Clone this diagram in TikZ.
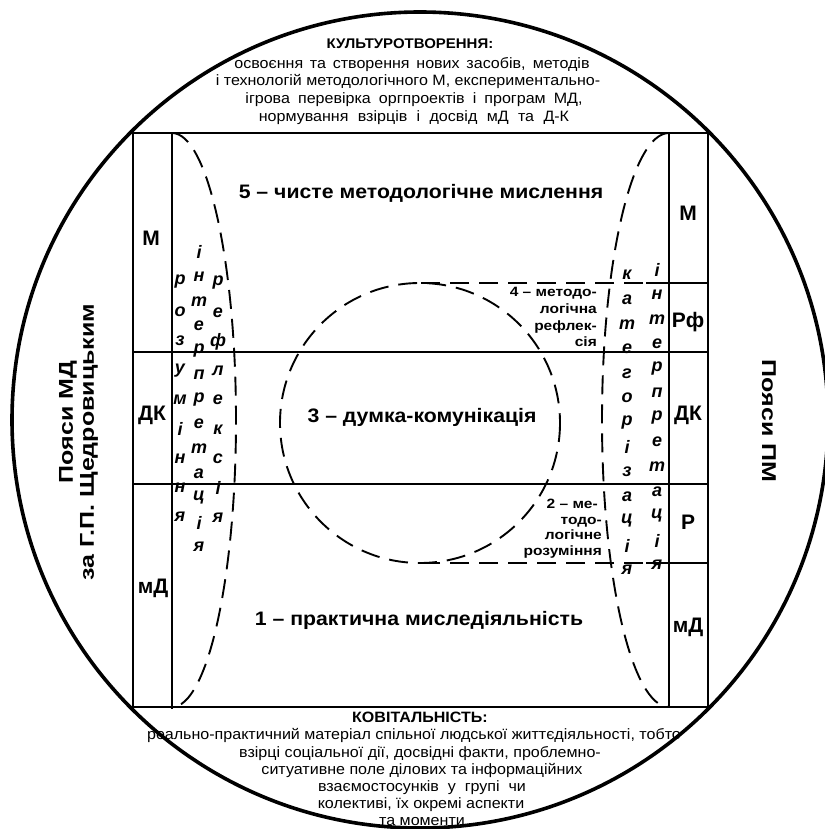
\documentclass[tikz,border=0pt]{standalone}
\usepackage{graphicx}
\usepackage{fontspec}
\setmainfont{Liberation Sans}
\newcommand\hs[1]{\scalebox{1.07}[1]{#1}}
\newcommand\hz[1]{\scalebox{1.09}[1]{#1}}
\newcommand\hsm[1]{\scalebox{1.15}[1]{#1}}
\newcommand\hsw[1]{\scalebox{1.25}[1]{#1}}
\begin{document}
\begin{tikzpicture}[x=1pt,y=-1pt,
  frame/.style={line width=2.2pt},
  dashline/.style={line width=1.9pt, dash pattern=on 19pt off 10pt},
  body/.style={inner sep=0pt, anchor=base, font=\fontsize{15}{17}\selectfont},
  bodyt/.style={inner sep=0pt, anchor=base, font=\bfseries\fontsize{15}{17}\selectfont},
  zone/.style={inner sep=0pt, font=\bfseries\fontsize{19.5}{22}\selectfont},
  col/.style={inner sep=0pt, font=\bfseries\fontsize{21}{24}\selectfont},
  vl/.style={inner sep=0pt, font=\bfseries\itshape\fontsize{18}{20}\selectfont},
  small/.style={inner sep=0pt, anchor=base east, font=\bfseries\fontsize{13.5}{15}\selectfont},
  side/.style={inner sep=0pt, font=\bfseries\fontsize{20}{22}\selectfont}]
\useasboundingbox (0,0) rectangle (824,829);

% outer circle
\draw[line width=3.6pt] (420,420) circle[radius=408];

% frame
\draw[frame] (133,133) rectangle (708,707);
\draw[frame] (172,133) -- (172,709);
\draw[frame] (669,133) -- (669,707);
\draw[frame] (133,352) -- (708,352);
\draw[frame] (133,484) -- (708,484);
\draw[frame] (646,283) -- (708,283);
\draw[frame] (646,563) -- (708,563);

% dashed shapes
\draw[dashline] (172,133) arc[start angle=-90, end angle=90, x radius=64, y radius=287];
\draw[dashline] (669,133) arc[start angle=-90, end angle=-270, x radius=67, y radius=287];
\draw[dashline] (420,423) circle[radius=140];
\coordinate (c4r) at (643,283);
\coordinate (c4l) at (420,283);
\coordinate (c2r) at (643,563);
\coordinate (c2l) at (420,563);
\draw[dashline] (c4r) -- (c4l);
\draw[dashline] (c2r) -- (c2l);

% top text
\node[bodyt, font=\bfseries\fontsize{14}{16}\selectfont] (kt) at (410,49) {\hs{КУЛЬТУРОТВОРЕННЯ:}};
\node[body] (k1) at (412,68.5) {\hs{\makebox[332pt][s]{освоєння та створення нових засобів, методів}}};
\node[body] (k2) at (408,86) {\hs{і технологій методологічного М, експериментально-}};
\node[body] (k3) at (414,104) {\hs{\makebox[315pt][s]{ігрова перевірка оргпроектів і програм МД,}}};
\node[body] (k4) at (414,122) {\hs{\makebox[290pt][s]{нормування взірців і досвід мД та Д-К}}};

% bottom text
\node[bodyt] (bt) at (420,722) {\hs{КОВІТАЛЬНІСТЬ:}};
\node[body] (b1) at (414,739) {\hs{реально-практичний матеріал спільної людської життєдіяльності, тобто}};
\node[body] (b2) at (420,757) {\hs{взірці соціальної дії, досвідні факти, проблемно-}};
\node[body] (b3) at (422,774) {\hs{ситуативне поле ділових та інформаційних}};
\node[body] (b4) at (422,791) {\hs{взаємостосунків\ \ у\ \ групі\ \ чи}};
\node[body] (b5) at (421,808) {\hs{колективі, їх окремі аспекти}};
\node[body] (b6) at (422,825) {\hs{та моменти}};

% zone titles
\node[zone] (z5) at (421,193) {\hz{5 – чисте методологічне мислення}};
\node[zone] (z3) at (422,417) {\hz{3 – думка-комунікація}};
\node[zone] (z1) at (419,620) {\hz{1 – практична миследіяльність}};

% 4 and 2
\node[small] (f1) at (597,296) {\hsm{4 – методо-}};
\node[small] (f2) at (597,313) {\hsm{логічна}};
\node[small] (f3) at (597,330.5) {\hsm{рефлек-}};
\node[small] (f4) at (597,346) {\hsm{сія}};
\node[small] (t1) at (598,508) {\hsm{2 – ме-}};
\node[small] (t2) at (602,524) {\hsm{тодо-}};
\node[small] (t3) at (602,539) {\hsm{логічне}};
\node[small] (t4) at (602,555) {\hsm{розуміння}};

% column labels
\node[col] (lm) at (151,238) {М};
\node[col] (ldk) at (152,415) {ДК};
\node[col] (lmd) at (153,588) {мД};
\node[col] (rm) at (688,213) {М};
\node[col] (rrf) at (688,322) {Рф};
\node[col] (rdk) at (688,415) {ДК};
\node[col] (rr) at (688,522) {Р};
\node[col] (rmd) at (688,627) {мД};

% vertical words
\foreach \l [count=\i from 0] in {р,о,з,у,м,і,н,н,я}
  \node[vl] (rz\i) at (180,282+29.4*\i) {\l};
\foreach \l [count=\i from 0] in {і,н,т,е,р,п,р,е,т,а,ц,і,я}
  \node[vl] (li\i) at (199,252+24.6*\i) {\l};
\foreach \l [count=\i from 0] in {р,е,ф,л,е,к,с,і,я}
  \node[vl] (rf\i) at (218,283+29.3*\i) {\l};
\foreach \l [count=\i from 0] in {к,а,т,е,г,о,р,і,з,а,ц,і,я}
  \node[vl] (kt\i) at (627,275+24.6*\i) {\l};
\foreach \l [count=\i from 0] in {і,н,т,е,р,п,р,е,т,а,ц,і,я}
  \node[vl] (ri\i) at (657,270+24.6*\i) {\l};

% side labels
\node[side, rotate=90] (s1) at (68,422) {\hsw{Пояси МД}};
\node[side, rotate=90] (s2) at (89,442) {\hsw{за Г.П. Щедровицьким}};
\node[side, rotate=-90] (s3) at (769,421) {\hsw{Пояси ПМ}};
\end{tikzpicture}
\end{document}
